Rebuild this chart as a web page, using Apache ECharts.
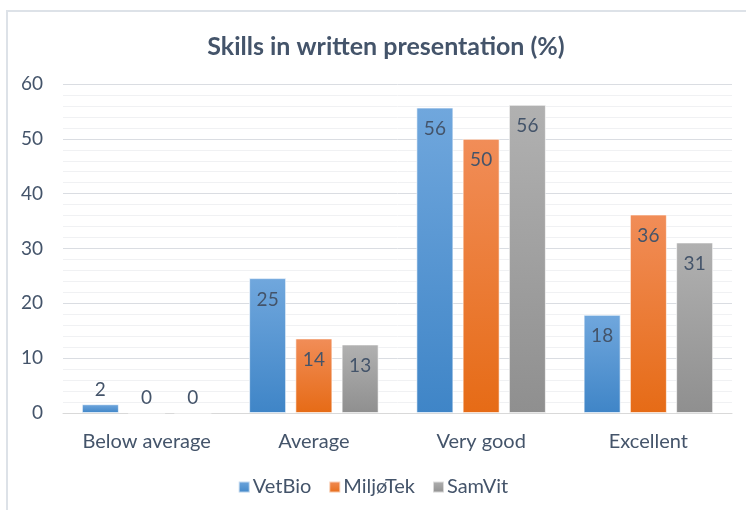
<!DOCTYPE html>
<html>
<head>
<meta charset="utf-8">
<script src="https://cdn.jsdelivr.net/npm/echarts@6/dist/echarts.min.js"></script>
<style>
  html, body { margin: 0; padding: 0; background: #fff; }
  /* frame of the original chart */
  .frame {
    position: absolute; left: 6px; top: 10px; width: 760px; height: 520px;
    border-left: 2px solid #dde2e8; border-top: 2px solid #dde2e8;
  }
  #chart { position: absolute; left: 0; top: 0; width: 746px; height: 510px; }
</style>
</head>
<body>
<div class="frame"></div>
<div id="chart"></div>
<script>
  // 数据
  var categories = ['Below average', 'Average', 'Very good', 'Excellent'];
  var vetBio = [1.6, 24.6, 55.7, 17.9];
  var miljoTek = [0, 13.6, 50.0, 36.2];
  var samVit = [0, 12.5, 56.2, 31.1];
  var yTicks = [0, 10, 20, 30, 40, 50, 60];

  var textColor = '#44546a';
  var fontFam = 'Lato, "Liberation Sans", sans-serif';

  function grad(top, bottom) {
    return new echarts.graphic.LinearGradient(0, 0, 0, 1, [
      { offset: 0, color: top },
      { offset: 1, color: bottom }
    ]);
  }

  function makeSeries(name, values, top, bottom) {
    return {
      name: name,
      type: 'bar',
      barWidth: 37,
      barGap: '25%',
      itemStyle: { color: grad(top, bottom), borderColor: 'rgba(255,255,255,0.6)', borderWidth: 1 },
      data: values.map(function (v) {
        return {
          value: v,
          label: v < 5 ? { position: 'top', distance: 5 } : { position: 'insideTop', distance: 12 }
        };
      }),
      label: {
        show: true,
        color: textColor,
        fontSize: 19,
        fontFamily: fontFam,
        formatter: function (p) { return Math.round(p.value); }
      }
    };
  }

  var myChart = echarts.init(document.getElementById('chart'));
  myChart.setOption({
    animation: false,
    textStyle: { fontFamily: fontFam },
    title: {
      text: 'Skills in written presentation (%)',
      left: 381,
      top: 29,
      textAlign: 'center',
      textStyle: { color: textColor, fontSize: 25, fontWeight: 'bold', fontFamily: fontFam }
    },
    legend: {
      bottom: 8,
      left: 'center',
      itemWidth: 11,
      itemHeight: 11,
      itemGap: 17,
      icon: 'rect',
      textStyle: { color: textColor, fontSize: 20, fontFamily: fontFam, padding: [0, 0, 0, -2] },
      data: ['VetBio', 'MiljøTek', 'SamVit']
    },
    grid: { left: 63, right: 14, top: 84, bottom: 97, containLabel: false },
    xAxis: {
      type: 'category',
      data: categories,
      axisLine: { lineStyle: { color: '#d9d9d9' } },
      axisTick: { show: false },
      axisLabel: { color: textColor, fontSize: 20, margin: 19, interval: 0 }
    },
    yAxis: {
      type: 'value',
      min: yTicks[0],
      max: yTicks[yTicks.length - 1],
      interval: 10,
      axisLine: { show: false },
      axisTick: { show: false },
      axisLabel: { color: textColor, fontSize: 19, margin: 20 },
      splitLine: { lineStyle: { color: '#dadde2' } },
      minorTick: { show: false, splitNumber: 5 },
      minorSplitLine: { show: true, lineStyle: { color: '#f0f1f3' } }
    },
    series: [
      makeSeries('VetBio', vetBio, '#70a7dd', '#3f85c7'),
      makeSeries('MiljøTek', miljoTek, '#f18d58', '#e66b16'),
      makeSeries('SamVit', samVit, '#b1b1b1', '#8f8f8f')
    ]
  });
</script>
</body>
</html>
